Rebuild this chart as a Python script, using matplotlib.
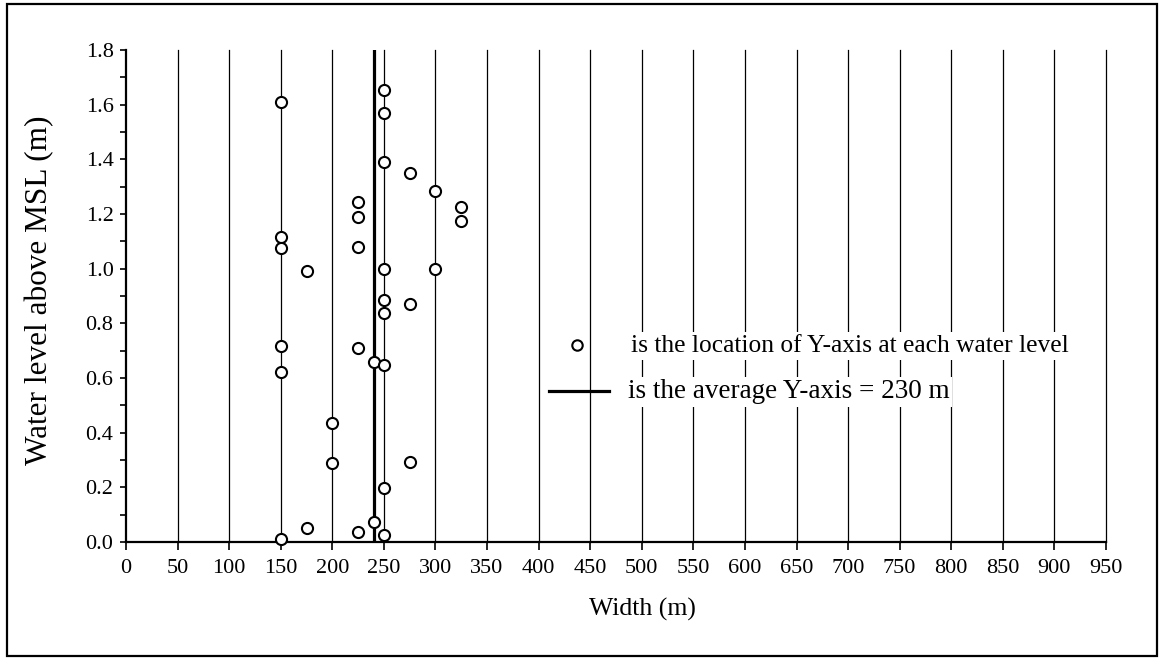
import matplotlib
matplotlib.use("Agg")
import matplotlib.pyplot as plt
from matplotlib.patches import Rectangle
from matplotlib.lines import Line2D
from matplotlib.ticker import MultipleLocator, FormatStrFormatter

plt.rcParams['font.family'] = ['Liberation Serif', 'DejaVu Serif']

# Data: width position (m) and water level above MSL (m) for each observation
width_m = [150, 150, 150, 150, 150, 150,
           175, 175,
           200, 200,
           225, 225, 225, 225, 225,
           240, 240,
           250, 250, 250, 250, 250, 250, 250, 250, 250,
           275, 275, 275,
           300, 300,
           325, 325]
water_level = [1.61, 1.115, 1.077, 0.717, 0.623, 0.01,
               0.99, 0.053,
               0.435, 0.288,
               1.245, 1.19, 1.08, 0.711, 0.037,
               0.66, 0.075,
               1.653, 1.571, 1.392, 1.0, 0.884, 0.837, 0.648, 0.197, 0.026,
               1.349, 0.87, 0.294,
               1.285, 1.0,
               1.224, 1.175]
average_line_x = 240
x_ticks = list(range(0, 951, 50))
grid_x = list(range(50, 951, 50))
y_max = 1.8

legend_marker_text = "is the location of Y-axis at each water level"
legend_line_text = "is the average Y-axis = 230 m"
x_label = "Width (m)"
y_label = "Water level above MSL (m)"

W, H = 1161, 661
fig = plt.figure(figsize=(W / 100, H / 100), dpi=100)
fig.patch.set_facecolor('white')

left_px, right_px, top_px, bottom_px = 126, 1106, 50, 542
ax = fig.add_axes([left_px / W, 1 - bottom_px / H,
                   (right_px - left_px) / W, (bottom_px - top_px) / H])

ax.set_xlim(0, 950)
ax.set_ylim(0, y_max)

for gx in grid_x:
    ax.axvline(gx, color='black', lw=0.9, zorder=1, clip_on=False)

ax.axvline(average_line_x, color='black', lw=2.3, zorder=2)

ax.plot(width_m, water_level, linestyle='none', marker='o', markersize=8,
        markerfacecolor='white', markeredgecolor='black', markeredgewidth=1.5,
        zorder=3, clip_on=False)

for s in ['top', 'right']:
    ax.spines[s].set_visible(False)
for s in ['left', 'bottom']:
    ax.spines[s].set_linewidth(1.6)

ax.set_xticks(x_ticks)
ax.set_xticklabels([str(v) for v in x_ticks])
ax.yaxis.set_major_locator(MultipleLocator(0.2))
ax.yaxis.set_minor_locator(MultipleLocator(0.1))
ax.yaxis.set_major_formatter(FormatStrFormatter('%.1f'))
ax.tick_params(axis='x', direction='out', length=6, width=1.2, labelsize=16, pad=6)
ax.tick_params(axis='y', which='both', direction='out', length=4, width=1.2,
               labelsize=16, pad=5)

ax.set_xlabel(x_label, fontsize=18.5)
ax.xaxis.set_label_coords((642 - left_px) / (right_px - left_px),
                          (bottom_px - 598) / (bottom_px - top_px))
ax.set_ylabel(y_label, fontsize=22.5)
ax.yaxis.set_label_coords((54 - left_px) / (right_px - left_px),
                          (bottom_px - 290) / (bottom_px - top_px))

def ax_pt(px, py):
    return ((px - left_px) / (right_px - left_px),
            (bottom_px - py) / (bottom_px - top_px))

# Custom legend
mx, my = ax_pt(577, 345)
ax.plot([mx], [my], transform=ax.transAxes, marker='o', markersize=7.5,
        markerfacecolor='white', markeredgecolor='black', markeredgewidth=1.5,
        linestyle='none', zorder=5, clip_on=False)
l0x, ly = ax_pt(549, 391)
l1x, _ = ax_pt(609, 391)
ax.add_line(Line2D([l0x, l1x], [ly, ly], transform=ax.transAxes,
                   color='black', lw=2.3, zorder=5))
tx1, ty1 = ax_pt(631, 346)
ax.text(tx1, ty1, legend_marker_text, transform=ax.transAxes, fontsize=18.4,
        ha='left', va='center', zorder=6,
        bbox=dict(facecolor='white', edgecolor='none', pad=2))
tx2, ty2 = ax_pt(628, 392)
ax.text(tx2, ty2, legend_line_text, transform=ax.transAxes, fontsize=19.5,
        ha='left', va='center', zorder=6,
        bbox=dict(facecolor='white', edgecolor='none', pad=2))

# Outer frame
fig.add_artist(Rectangle((7 / W, 1 - 656 / H), (1157 - 7) / W, (656 - 4) / H,
                         transform=fig.transFigure, fill=False,
                         edgecolor='black', lw=1.6))

fig.savefig('out.png', dpi=100)
